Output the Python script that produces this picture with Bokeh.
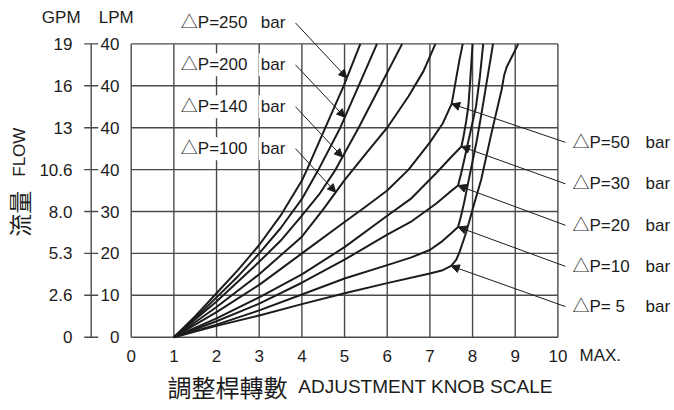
import numpy as np
from bokeh.plotting import figure
from bokeh.models import Range1d, Label, Arrow, NormalHead
from bokeh.embed import file_html
from bokeh.resources import INLINE
from bokeh.core.properties import value

# ---------------- data ----------------
knob_ticks = list(range(11))                 # adjustment knob scale 0..10
knob_labels = [str(t) for t in knob_ticks]
flow_ticks = list(range(8))                  # flow grid rows
gpm_labels = ["0", "2.6", "5.3", "8.0", "10.6", "13", "16", "19"]
lpm_labels = ["0", "10", "20", "30", "40", "40", "40", "40"]

p250_x = [1.0, 1.5, 2.0, 2.5, 3.0, 3.5, 4.0, 4.12, 4.55, 4.98, 5.37]
p250_y = [0.0, 0.5, 1.05, 1.6, 2.2, 2.9, 3.74, 4.0, 5.0, 6.0, 7.0]
p200_x = [1.0, 1.5, 2.0, 2.5, 3.0, 3.5, 4.0, 4.39, 4.9, 5.33, 5.76]
p200_y = [0.0, 0.45, 0.95, 1.45, 2.0, 2.6, 3.3, 4.0, 5.0, 6.0, 7.0]
p140_x = [1.0, 2.0, 3.0, 3.5, 4.0, 4.4, 4.79, 5.33, 5.84, 6.35]
p140_y = [0.0, 0.85, 1.8, 2.3, 2.9, 3.4, 4.0, 5.0, 6.0, 7.0]
p100_x = [1.0, 2.0, 3.0, 4.0, 4.5, 5.0, 5.5, 6.0, 6.5, 6.85, 7.13]
p100_y = [0.0, 0.72, 1.5, 2.4, 3.05, 3.75, 4.38, 5.0, 5.75, 6.35, 7.0]
p50_x = [1.0, 2.0, 3.0, 4.0, 5.0, 5.5, 6.0, 6.5, 7.0, 7.3, 7.51, 7.56, 7.62, 7.69, 7.77]
p50_y = [0.0, 0.6, 1.25, 2.0, 2.75, 3.12, 3.5, 4.0, 4.65, 5.1, 5.57, 5.85, 6.2, 6.6, 7.0]
p30_x = [1.0, 2.0, 3.0, 4.0, 5.0, 6.0, 6.55, 7.15, 7.5, 7.74, 7.79, 7.85, 7.9, 7.95, 8.0]
p30_y = [0.0, 0.45, 0.95, 1.5, 2.15, 2.9, 3.3, 3.92, 4.3, 4.55, 4.8, 5.15, 5.5, 6.2, 7.0]
p20_x = [1.0, 2.0, 3.0, 4.0, 5.0, 6.0, 6.55, 7.15, 7.45, 7.66, 7.73, 7.82, 7.95, 8.08, 8.17, 8.25]
p20_y = [0.0, 0.38, 0.8, 1.3, 1.85, 2.45, 2.75, 3.19, 3.45, 3.62, 3.9, 4.3, 4.9, 5.5, 6.2, 7.0]
p10_x = [1.0, 2.0, 3.0, 4.0, 5.0, 6.0, 6.55, 7.0, 7.3, 7.5, 7.66, 7.72, 7.8, 7.9, 8.0, 8.1, 8.22, 8.35, 8.48]
p10_y = [0.0, 0.3, 0.64, 1.02, 1.4, 1.72, 1.9, 2.08, 2.3, 2.48, 2.63, 2.85, 3.2, 3.7, 4.2, 4.7, 5.4, 6.2, 7.0]
p5_x = [1.0, 2.0, 3.0, 4.0, 5.0, 6.0, 7.0, 7.3, 7.5, 7.62, 7.7, 7.85, 8.0, 8.2, 8.45, 8.68, 8.74, 8.8, 8.9, 9.0, 9.07]
p5_y = [0.0, 0.27, 0.52, 0.79, 1.05, 1.29, 1.52, 1.6, 1.7, 1.85, 2.05, 2.5, 3.05, 3.75, 4.9, 5.9, 6.25, 6.45, 6.65, 6.85, 7.0]

left_names = ["△P=250", "△P=200", "△P=140", "△P=100"]
left_curves = [(p250_x, p250_y), (p200_x, p200_y), (p140_x, p140_y), (p100_x, p100_y)]
left_tip_y = [6.19, 5.25, 4.30, 3.46]          # where each arrow meets its curve

right_names = ["△P=50", "△P=30", "△P=20", "△P=10", "△P= 5"]
right_curves = [(p50_x, p50_y), (p30_x, p30_y), (p20_x, p20_y), (p10_x, p10_y), (p5_x, p5_y)]
right_knee_idx = [10, 9, 9, 10, 8]              # arrow points at the knee of each curve

# ---------------- layout ----------------
W, H = 674, 410
X0_PX, PXU_X = 130.7, 42.67                     # pixel of knob 0, px per knob unit
Y0_PX, PXU_Y = 336.7, 41.9                      # pixel of flow row 0, px per row
def dx(px):
    return (px - X0_PX) / PXU_X
def dy(py):
    return (Y0_PX - py) / PXU_Y

xr = Range1d(dx(0), dx(W))
yr = Range1d(dy(H), dy(0))

FONT = "Liberation Sans, Noto Sans CJK TC"
CJK = "Noto Sans CJK TC"
INK = "#1c1c1c"
GRID = "#4a4a4a"
FS = "17px"

p = figure(width=W, height=H, x_range=xr, y_range=yr, output_backend="svg",
           toolbar_location=None, x_axis_type=None, y_axis_type=None,
           min_border=0, min_border_left=0, min_border_right=0,
           min_border_top=0, min_border_bottom=0)
p.outline_line_color = None
p.grid.visible = False
p.background_fill_color = "white"
p.border_fill_color = "white"

# chart grid
p.segment(x0=knob_ticks, x1=knob_ticks, y0=[flow_ticks[0]] * len(knob_ticks),
          y1=[flow_ticks[-1]] * len(knob_ticks), line_color=GRID, line_width=1.4)
p.segment(x0=[knob_ticks[0]] * len(flow_ticks), x1=[knob_ticks[-1]] * len(flow_ticks),
          y0=flow_ticks, y1=flow_ticks, line_color=GRID, line_width=1.4)

# left scale: line with crossing ticks, GPM labels on the left, LPM on the right
scale_x = dx(90.7)
tick_half = 7 / PXU_X
p.segment(x0=[scale_x], x1=[scale_x], y0=[flow_ticks[0]], y1=[flow_ticks[-1]],
          line_color=GRID, line_width=1.4)
p.segment(x0=[scale_x - tick_half] * len(flow_ticks), x1=[scale_x + tick_half] * len(flow_ticks),
          y0=flow_ticks, y1=flow_ticks, line_color=GRID, line_width=1.4)
p.text(x=[dx(72)] * len(flow_ticks), y=flow_ticks, text=gpm_labels,
       text_font=value(FONT), text_font_size=FS, text_color=INK,
       text_align="right", text_baseline="middle")
p.text(x=[dx(119)] * len(flow_ticks), y=flow_ticks, text=lpm_labels,
       text_font=value(FONT), text_font_size=FS, text_color=INK,
       text_align="right", text_baseline="middle")

# knob scale labels
p.text(x=knob_ticks, y=[dy(355)] * len(knob_ticks), text=knob_labels,
       text_font=value(FONT), text_font_size=FS, text_color=INK,
       text_align="center", text_baseline="middle")

# curves
for cx, cy in left_curves + right_curves:
    p.line(cx, cy, line_color=INK, line_width=2, line_join="round")

# left labels and arrows
left_label_y = [7.5, 6.5, 5.5, 4.5]
for name, (cx, cy), ty, ly in zip(left_names, left_curves, left_tip_y, left_label_y):
    tx = float(np.interp(ty, cy, cx))
    p.add_layout(Label(x=dx(178.3), y=ly, text=name, text_font=FONT, text_font_size=FS,
                       text_color=INK, text_baseline="middle", text_align="left",
                       background_fill_color="white", padding=2))
    p.add_layout(Label(x=dx(258.3), y=ly, text="bar", text_font=FONT, text_font_size=FS,
                       text_color=INK, text_baseline="middle", text_align="left",
                       background_fill_color="white", padding=2))
    p.add_layout(Arrow(x_start=dx(295), y_start=ly, x_end=tx, y_end=ty,
                       line_color=INK, line_width=1,
                       end=NormalHead(size=8, fill_color=INK, line_color=INK, line_width=1)))

# right labels and arrows
right_label_y = [4.65, 3.66, 2.67, 1.69, 0.73]
for name, (cx, cy), k, ly in zip(right_names, right_curves, right_knee_idx, right_label_y):
    p.add_layout(Label(x=dx(572), y=ly, text=name, text_font=FONT, text_font_size=FS,
                       text_color=INK, text_baseline="middle", text_align="left"))
    p.add_layout(Label(x=dx(645), y=ly, text="bar", text_font=FONT, text_font_size=FS,
                       text_color=INK, text_baseline="middle", text_align="left"))
    p.add_layout(Arrow(x_start=dx(565), y_start=ly, x_end=cx[k], y_end=cy[k],
                       line_color=INK, line_width=1,
                       end=NormalHead(size=8, fill_color=INK, line_color=INK, line_width=1)))

# headers
p.add_layout(Label(x=dx(60.7), y=dy(16.5), text="GPM", text_font=FONT, text_font_size=FS,
                   text_color=INK, text_align="center", text_baseline="middle"))
p.add_layout(Label(x=dx(115.8), y=dy(16.5), text="LPM", text_font=FONT, text_font_size=FS,
                   text_color=INK, text_align="center", text_baseline="middle"))
p.add_layout(Label(x=dx(579), y=dy(355), text="MAX.", text_font=FONT, text_font_size=FS,
                   text_color=INK, text_align="left", text_baseline="middle"))

# axis titles
p.add_layout(Label(x=dx(227), y=dy(386), text="調整桿轉數", text_font=CJK,
                   text_font_size="24px", text_color=INK, text_align="center",
                   text_baseline="middle"))
p.add_layout(Label(x=dx(297.8), y=dy(386), text="ADJUSTMENT KNOB SCALE", text_font=FONT,
                   text_font_size="19px", text_color=INK, text_align="left",
                   text_baseline="middle"))
p.add_layout(Label(x=dx(18.5), y=dy(151.7), text="FLOW", text_font=FONT, text_font_size=FS,
                   text_color=INK, text_align="center", text_baseline="middle",
                   angle=np.pi / 2))
p.add_layout(Label(x=dx(18.5), y=dy(213.3), text="流量", text_font=CJK,
                   text_font_size="23px", text_color=INK, text_align="center",
                   text_baseline="middle", angle=np.pi / 2))

open("out.html", "w").write(file_html(p, INLINE))
